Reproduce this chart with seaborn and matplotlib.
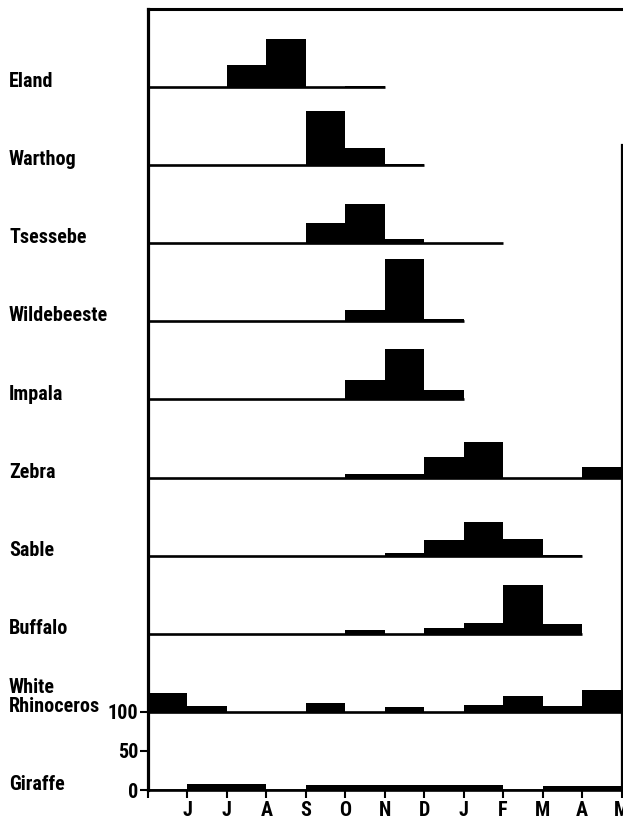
import numpy as np
import pandas as pd
import matplotlib
matplotlib.use("Agg")
import matplotlib.pyplot as plt
from matplotlib import font_manager
import seaborn as sns

# Rows from top to bottom
species = ["Eland", "Warthog", "Tsessebe", "Wildebeeste", "Impala",
           "Zebra", "Sable", "Buffalo", "White Rhinoceros", "Giraffe"]

# Monthly values (percent), month intervals starting at the left axis (May .. Apr)
eland       = [0, 0, 28, 62, 0, 2, 0, 0, 0, 0, 0, 0]
warthog     = [0, 0, 0, 0, 69, 22, 2, 0, 0, 0, 0, 0]
tsessebe    = [0, 0, 0, 0, 26, 50, 6, 1, 1, 0, 0, 0]
wildebeeste = [0, 0, 0, 0, 0, 14, 80, 3, 0, 0, 0, 0]
impala      = [0, 0, 0, 0, 0, 25, 65, 12, 0, 0, 0, 0]
zebra       = [0, 0, 0, 0, 0, 5, 5, 26, 45, 0, 0, 13]
sable       = [0, 0, 0, 0, 0, 0, 4, 20, 43, 22, 1, 0]
buffalo     = [0, 0, 0, 0, 0, 5, 0, 8, 14, 63, 12, 0]
rhino       = [24, 8, 0, 0, 11, 0, 6, 0, 9, 20, 8, 28]
giraffe     = [0, 8, 8, 0, 7, 6, 6, 6, 6, 0, 5, 5]
series = [eland, warthog, tsessebe, wildebeeste, impala,
          zebra, sable, buffalo, rhino, giraffe]

# number of month intervals covered by each row's baseline
line_end = [6, 7, 9, 8, 8, 12, 11, 11, 12, 12]

month_labels = ["J", "J", "A", "S", "O", "N", "D", "J", "F", "M", "A", "M"]
ytick_vals = [0, 50, 100]
row_step = 100

sns.set_theme(style="ticks")

installed = {f.name for f in font_manager.fontManager.ttflist}
font_choice, fsize = "Roboto", 13.0
for fam, size in [("Liberation Sans Narrow", 14.5), ("Roboto Condensed", 14.5),
                  ("Roboto", 13.0)]:
    if fam in installed:
        font_choice, fsize = fam, size
        break
plt.rcParams["font.family"] = [font_choice, "DejaVu Sans"]
plt.rcParams["text.color"] = "black"

W, H = 623, 822
fig = plt.figure(figsize=(W / 100, H / 100), dpi=100)
ax = fig.add_axes([148 / W, 32 / H, (621.5 - 148) / W, (790 - 9) / H])

n = len(species)
for i, (name, vals) in enumerate(zip(species, series)):
    off = (n - 1 - i) * row_step
    df = pd.DataFrame({"month": np.arange(12) + 0.5, "pct": vals})
    sns.barplot(data=df, x="month", y="pct", native_scale=True, width=1,
                color="black", saturation=1, errorbar=None, bottom=off,
                linewidth=0, ax=ax)
    ax.plot([0, line_end[i]], [off, off], color="black", lw=1.9,
            solid_capstyle="butt", zorder=3)

ax.set_xlim(0, 12)
ax.set_ylim(0, 1000)
ax.set_xlabel("")
ax.set_ylabel("")

ax.set_xticks(range(13))
ax.set_xticklabels([""] + month_labels)
ax.set_yticks(ytick_vals)
ax.set_yticklabels([str(v) for v in ytick_vals])

for lab in ax.get_xticklabels() + ax.get_yticklabels():
    lab.set_fontweight("bold")
    lab.set_fontsize(fsize)

ax.tick_params(axis="x", direction="out", length=6, width=1.5, pad=2, colors="black")
ax.tick_params(axis="y", direction="out", length=6, width=1.5, pad=1, colors="black")

for side, lw in [("left", 2.3), ("top", 2.2), ("right", 1.6), ("bottom", 1.9)]:
    ax.spines[side].set_visible(True)
    ax.spines[side].set_linewidth(lw)
    ax.spines[side].set_color("black")
ax.spines["right"].set_bounds(0, 826)

# row labels on the left
px_per_month = (621.5 - 148) / 12
x_lab = (9 - 148) / px_per_month
for i, name in enumerate(species):
    off = (n - 1 - i) * row_step
    if name == "White Rhinoceros":
        ax.text(x_lab, off + 24, "White", ha="left", va="baseline",
                fontsize=fsize, fontweight="bold", color="black", clip_on=False)
        ax.text(x_lab, off, "Rhinoceros", ha="left", va="baseline",
                fontsize=fsize, fontweight="bold", color="black", clip_on=False)
    else:
        ax.text(x_lab, off, name, ha="left", va="baseline",
                fontsize=fsize, fontweight="bold", color="black", clip_on=False)

fig.savefig("out.png", dpi=100)
